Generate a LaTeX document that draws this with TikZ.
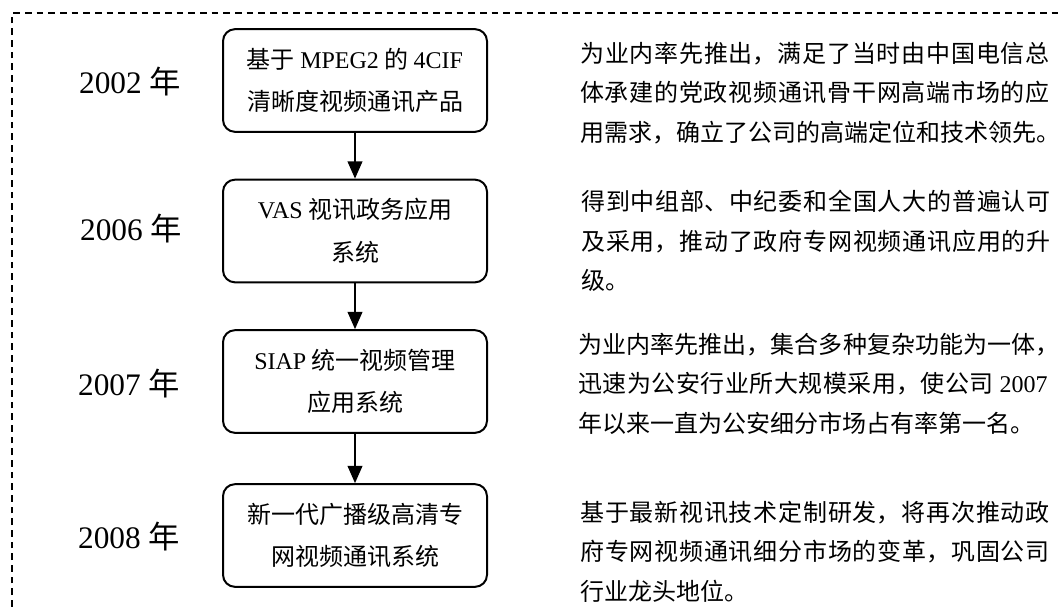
\documentclass[tikz,border=0pt]{standalone}
\usepackage{fontspec}
\setmainfont{Liberation Serif}
\newfontfamily\cjk{Noto Sans CJK SC}
\usetikzlibrary{arrows.meta}
\XeTeXlinebreaklocale "zh"
\XeTeXlinebreakskip=0pt plus 2pt
\newcommand\en[1]{{\rmfamily #1}}
\newcommand\halfp[1]{\makebox[0.5em][l]{#1}}

\begin{document}
\begin{tikzpicture}[x=0.75pt, y=-0.75pt,
    stagebox/.style={draw, line width=1.5pt, rounded corners=9pt,
      minimum width=198pt, minimum height=77pt, align=center,
      font=\cjk\fontsize{18}{32}\selectfont},
    yearlabel/.style={inner sep=0pt, font=\fontsize{23.5}{28}\selectfont},
    remark/.style={anchor=north west, inner sep=0pt, text width=352pt,
      align=justify, font=\cjk\fontsize{18}{29.5}\selectfont},
    flow/.style={-{Triangle[length=13pt, width=11pt]}, line width=1.5pt}]
    \useasboundingbox (0,0) rectangle (1062,610);
    \clip (0,0) rectangle (1062,610);

    \draw[line width=1pt, dash pattern=on 5pt off 3.75pt]
    (12,700) |- (1120,13);

    \path
    (355,80.5) node[stagebox] (b1) {基于 \en{MPEG2} 的 \en{4CIF}\\清晰度视频通讯产品}
    (355,231) node[stagebox] (b2) {\en{VAS} 视讯政务应用\\系统}
    (355,381.5) node[stagebox] (b3) {\en{SIAP} 统一视频管理\\应用系统}
    (355,535.5) node[stagebox] (b4) {新一代广播级高清专\\网视频通讯系统}
    (130,82) node[yearlabel] (y1) {2002 {\cjk 年}}
    (131,229) node[yearlabel] (y2) {2006 {\cjk 年}}
    (129,384) node[yearlabel] (y3) {2007 {\cjk 年}}
    (129,537) node[yearlabel] (y4) {2008 {\cjk 年}}
    (580,42) node[remark] (t1) {为业内率先推出，满足了当时由中国电信总\linebreak
      体承建的党政视频通讯骨干网高端市场的应\linebreak
      用需求，确立了公司的高端定位和技术领先\halfp{。}}
    (581,190) node[remark] (t2) {得到中组部、中纪委和全国人大的普遍认可\linebreak
      及采用，推动了政府专网视频通讯应用的升\linebreak
      级。}
    (578,333) node[remark] (t3) {为业内率先推出，集合多种复杂功能为一体\halfp{，}\linebreak
      迅速为公安行业所大规模采用，使公司 \en{2007}\linebreak
      年以来一直为公安细分市场占有率第一名。}
    (580,501) node[remark] (t4) {基于最新视讯技术定制研发，将再次推动政\linebreak
      府专网视频通讯细分市场的变革，巩固公司\linebreak
      行业龙头地位。};

    \draw[flow] (b1.south) -- (b2.north);
    \draw[flow] (b2.south) -- (b3.north);
    \draw[flow] (b3.south) -- (b4.north);
  \end{tikzpicture}
\end{document}
